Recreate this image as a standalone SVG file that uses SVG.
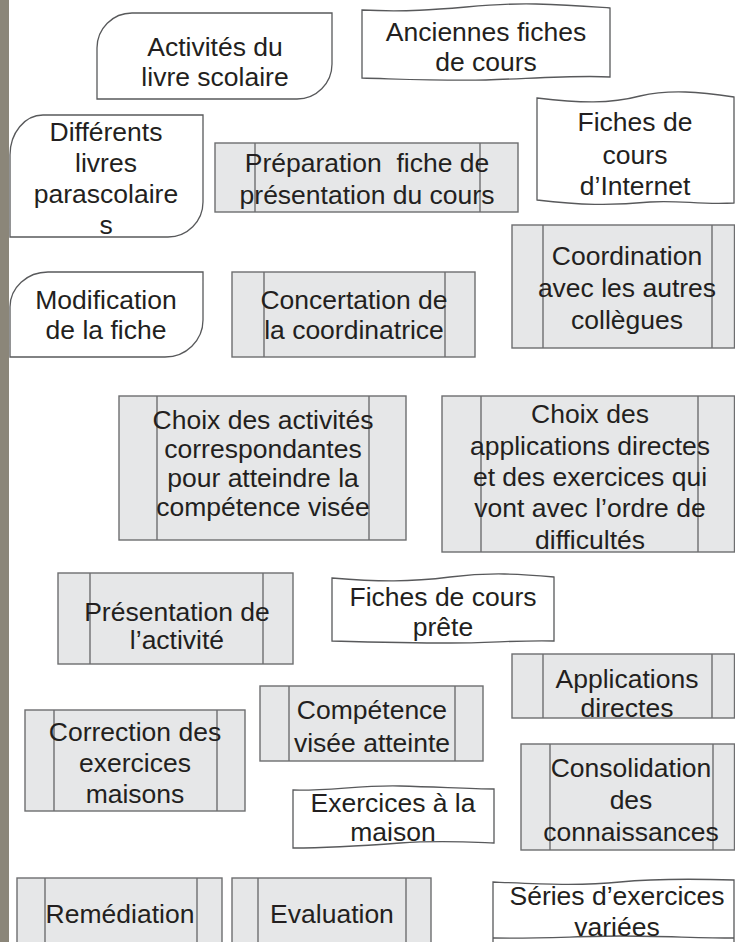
<svg xmlns="http://www.w3.org/2000/svg" width="735" height="942" viewBox="0 0 735 942">
<style>
.t{font-family:"Liberation Sans",Arial,Helvetica,sans-serif;font-size:26.5px;fill:#231f20;text-anchor:middle}
.p{fill:#e6e7e8;stroke:#6d6e70;stroke-width:1.4}
.l{stroke:#6d6e70;stroke-width:1.4;fill:none}
.w{fill:#ffffff;stroke:#58595b;stroke-width:1.3}
</style>
<rect x="0" y="0" width="735" height="942" fill="#ffffff"/>
<rect x="0" y="0" width="9" height="942" fill="#8b8679"/>
<g id="connectors"></g>

<g id="n-activites">
<path class="w" d="M97,99 V48 A35,35 0 0 1 132,13 H332 V64 A35,35 0 0 1 297,99 Z"/>
<text class="t" x="215" y="56">Activités du</text>
<text class="t" x="215" y="86">livre scolaire</text>
</g>

<g id="n-anciennes">
<path class="w" d="M362,10 C440,14 480,2 536,4 C570,5 595,7 610,8 V77 C580,75 540,78 486,80 C440,81 400,79 362,78 Z"/>
<text class="t" x="486" y="41">Anciennes fiches</text>
<text class="t" x="486" y="71">de cours</text>
</g>

<g id="n-differents">
<path class="w" d="M10,237 V155 A33,40 0 0 1 43,115 H203 V202 A35,35 0 0 1 168,237 Z"/>
<text class="t" x="106" y="141">Différents</text>
<text class="t" x="106" y="172">livres</text>
<text class="t" x="106" y="203">parascolaire</text>
<text class="t" x="106" y="234">s</text>
</g>

<g id="n-preparation">
<rect class="p" x="215" y="143" width="303" height="69"/>
<line class="l" x1="255" y1="143" x2="255" y2="212"/>
<line class="l" x1="480" y1="143" x2="480" y2="212"/>
<text class="t" x="367" y="172" xml:space="preserve">Préparation  fiche de</text>
<text class="t" x="367" y="204">présentation du cours</text>
</g>

<g id="n-internet">
<path class="w" d="M537,98 C580,103 610,104 640,96 C670,89 700,92 734,97 V203 C700,205 680,200 650,202 C610,206 580,205 537,200 Z"/>
<text class="t" x="635" y="131">Fiches de</text>
<text class="t" x="635" y="164">cours</text>
<text class="t" x="635" y="195">d’Internet</text>
</g>

<g id="n-modification">
<path class="w" d="M10,357 V307 A38,35 0 0 1 48,272 H203 V320 A38,37 0 0 1 165,357 Z"/>
<text class="t" x="106" y="309">Modification</text>
<text class="t" x="106" y="339">de la fiche</text>
</g>

<g id="n-concertation">
<rect class="p" x="232" y="272" width="243" height="85"/>
<line class="l" x1="264" y1="272" x2="264" y2="357"/>
<line class="l" x1="445" y1="272" x2="445" y2="357"/>
<text class="t" x="354" y="309">Concertation de</text>
<text class="t" x="354" y="339">la coordinatrice</text>
</g>

<g id="n-coordination">
<rect class="p" x="512" y="225" width="222.5" height="123"/>
<line class="l" x1="543" y1="225" x2="543" y2="348"/>
<line class="l" x1="712" y1="225" x2="712" y2="348"/>
<text class="t" x="627" y="265">Coordination</text>
<text class="t" x="627" y="297">avec les autres</text>
<text class="t" x="627" y="329">collègues</text>
</g>

<g id="n-choix-activites">
<rect class="p" x="119" y="396" width="287" height="144"/>
<line class="l" x1="157" y1="396" x2="157" y2="540"/>
<line class="l" x1="369" y1="396" x2="369" y2="540"/>
<text class="t" x="263" y="429">Choix des activités</text>
<text class="t" x="263" y="458">correspondantes</text>
<text class="t" x="263" y="487">pour atteindre la</text>
<text class="t" x="263" y="516">compétence visée</text>
</g>

<g id="n-choix-applications">
<rect class="p" x="442" y="396" width="292.5" height="156"/>
<line class="l" x1="481" y1="396" x2="481" y2="552"/>
<line class="l" x1="698" y1="396" x2="698" y2="552"/>
<text class="t" x="590" y="423">Choix des</text>
<text class="t" x="590" y="455">applications directes</text>
<text class="t" x="590" y="486">et des exercices qui</text>
<text class="t" x="590" y="517">vont avec l’ordre de</text>
<text class="t" x="590" y="549">difficultés</text>
</g>

<g id="n-presentation">
<rect class="p" x="58" y="573" width="235" height="91"/>
<line class="l" x1="90" y1="573" x2="90" y2="664"/>
<line class="l" x1="263" y1="573" x2="263" y2="664"/>
<text class="t" x="177" y="621">Présentation de</text>
<text class="t" x="177" y="649">l’activité</text>
</g>

<g id="n-fiches-prete">
<path class="w" d="M332,578 C380,582 410,582 450,577 C490,572 520,574 554,577 V641 C520,640 490,643 450,643 C410,643 370,642 332,641 Z"/>
<text class="t" x="443" y="606">Fiches de cours</text>
<text class="t" x="443" y="636">prête</text>
</g>

<g id="n-applications">
<rect class="p" x="512" y="654" width="222.5" height="64"/>
<line class="l" x1="543" y1="654" x2="543" y2="718"/>
<line class="l" x1="712" y1="654" x2="712" y2="718"/>
<text class="t" x="627" y="688">Applications</text>
<text class="t" x="627" y="717">directes</text>
</g>

<g id="n-competence">
<rect class="p" x="260" y="686" width="223" height="75"/>
<line class="l" x1="289" y1="686" x2="289" y2="761"/>
<line class="l" x1="455" y1="686" x2="455" y2="761"/>
<text class="t" x="372" y="719">Compétence</text>
<text class="t" x="372" y="752">visée atteinte</text>
</g>

<g id="n-correction">
<rect class="p" x="25" y="710" width="220" height="101"/>
<line class="l" x1="54" y1="710" x2="54" y2="811"/>
<line class="l" x1="217" y1="710" x2="217" y2="811"/>
<text class="t" x="135" y="741">Correction des</text>
<text class="t" x="135" y="772">exercices</text>
<text class="t" x="135" y="803">maisons</text>
</g>

<g id="n-consolidation">
<rect class="p" x="521" y="744" width="213.5" height="106"/>
<line class="l" x1="550" y1="744" x2="550" y2="850"/>
<line class="l" x1="713" y1="744" x2="713" y2="850"/>
<text class="t" x="631" y="777">Consolidation</text>
<text class="t" x="631" y="809">des</text>
<text class="t" x="631" y="841">connaissances</text>
</g>

<g id="n-exercices">
<path class="w" d="M293,790 C330,791 360,785 400,786 C440,787 470,789 494,789 V843 C470,842 440,840 400,843 C360,846 330,848 293,848 Z"/>
<text class="t" x="393" y="812">Exercices à la</text>
<text class="t" x="393" y="841">maison</text>
</g>

<g id="n-remediation">
<rect class="p" x="17" y="878" width="205" height="80"/>
<line class="l" x1="45" y1="878" x2="45" y2="958"/>
<line class="l" x1="197" y1="878" x2="197" y2="958"/>
<text class="t" x="120" y="923">Remédiation</text>
</g>

<g id="n-evaluation">
<rect class="p" x="232" y="878" width="199" height="80"/>
<line class="l" x1="258" y1="878" x2="258" y2="958"/>
<line class="l" x1="406" y1="878" x2="406" y2="958"/>
<text class="t" x="332" y="923">Evaluation</text>
</g>

<g id="n-series">
<path class="w" d="M493,882 C540,884 580,886 620,882 C660,878 700,879 734,880 V960 H493 Z"/>
<path class="l" style="stroke:#58595b;stroke-width:1.3" d="M493,938 C540,939 580,936 620,936 C660,936 700,938 734,938"/>
<text class="t" x="617" y="905">Séries d’exercices</text>
<text class="t" x="617" y="936">variées</text>
</g>
</svg>
